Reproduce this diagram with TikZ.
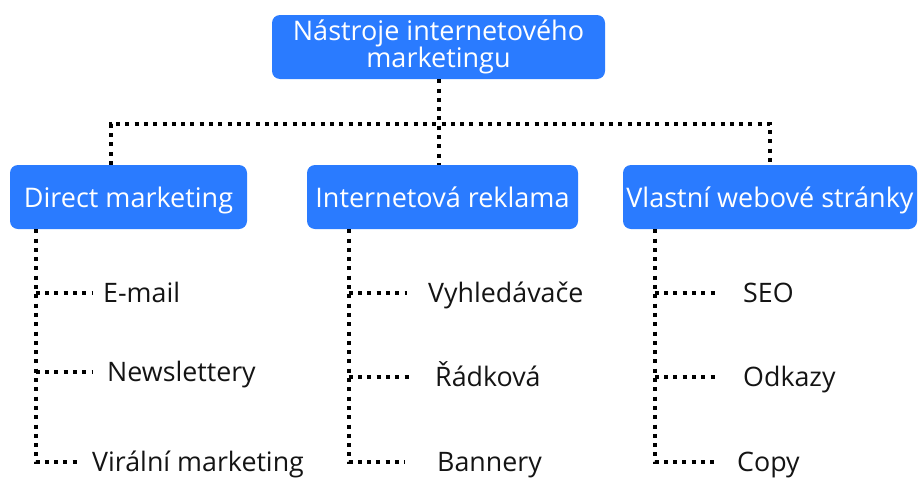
\documentclass[tikz,border=0pt]{standalone}
\usepackage{fontspec}
\setmainfont{Open Sans}
\definecolor{boxblue}{HTML}{2A7BFF}
\definecolor{leafink}{HTML}{141414}

\tikzset{
  topic/.style={fill=boxblue, rounded corners=8pt, text=white, inner sep=0pt,
    minimum height=64pt, align=center, font=\fontsize{27}{27}\selectfont},
  branch/.style={topic, text height=20pt, text depth=0pt},
  leaf/.style={anchor=west, inner sep=0pt, text=leafink, text height=19pt, text depth=0pt,
    font=\fontsize{26.8}{28}\selectfont},
  dotline/.style={line width=4pt, dash pattern=on 4pt off 5.3pt},
}

\begin{document}
\begin{tikzpicture}[x=1pt, y=-1pt]
  \useasboundingbox (0,0) rectangle (918,477);
  % root and the three branches
  \node[topic, minimum width=333pt] (root) at (438.5,47) {Nástroje internetového\\marketingu};
  \node[branch, minimum width=237pt] (dm) at (128.5,197) {Direct marketing};
  \node[branch, minimum width=271pt] (ir) at (442.5,197) {Internetová reklama};
  \node[branch, minimum width=294pt] (vw) at (770,197) {Vlastní webové stránky};
  % leaves: name/text/y/line end/text x
  \foreach \n/\t/\y/\e/\x in {
      em/E-mail/293/92/103, nl/Newslettery/372/92/107, vm/Virální marketing/462/79/92,
      vy/Vyhledávače/293/407/428, ra/Řádková/377/409/435, ba/Bannery/462/405/437,
      seo/SEO/293/715/743, od/Odkazy/377/715/743, co/Copy/462/715/737}{
    \node[leaf] (\n) at (\x,\y) {\t};
    \coordinate (\n-end) at (\e,\y);
  }
  % root to branches
  \draw[dotline] (root.south) -- (root.south |- ir.north);
  \draw[dotline] ([xshift=-18pt]dm.north) |- ([yshift=41pt]vw.north) -- (vw.north);
  % spines
  \coordinate (dm-sp) at ([xshift=26pt]dm.south west);
  \coordinate (ir-sp) at ([xshift=42pt]ir.south west);
  \coordinate (vw-sp) at ([xshift=32pt]vw.south west);
  \draw[dotline] (dm-sp) |- (vm-end);
  \draw[dotline] (ir-sp) |- (ba-end);
  \draw[dotline] (vw-sp) |- (co-end);
  \foreach \s/\n in {dm/em, dm/nl, ir/vy, ir/ra, vw/seo, vw/od}
    \draw[dotline] (\s-sp |- \n-end) -- (\n-end);
\end{tikzpicture}
\end{document}
